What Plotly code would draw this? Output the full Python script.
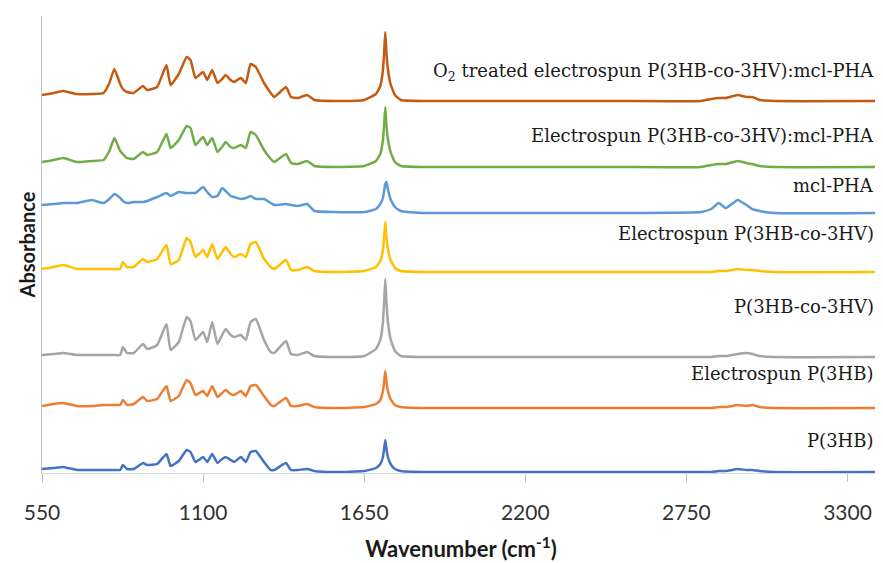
import plotly.graph_objects as go

# Shared wavenumber grid (cm-1)
wavenumber = [550, 590, 623, 669, 720, 760, 780, 797, 817, 826, 840, 863, 895, 909, 943,
              975, 989, 1017, 1044, 1057, 1074, 1100, 1114, 1131, 1149, 1165, 1177, 1194,
              1206, 1229, 1246, 1262, 1280, 1308, 1331, 1343, 1383, 1400, 1423, 1455, 1480,
              1550, 1650, 1690, 1705, 1714, 1718, 1722, 1726, 1730, 1740, 1755, 1775, 1850,
              2000, 2500, 2800, 2835, 2860, 2885, 2925, 2955, 2975, 3000, 3050, 3425]

# Absorbance (arbitrary units, baseline-relative)
abs_o2_blend = [6, 8, 10, 7, 7, 8, 18, 32, 17, 12, 9, 8, 15, 11, 14,
                36, 16, 27, 44, 41, 23, 29, 21, 31, 18, 22, 26, 21,
                19, 23, 18, 37, 34, 18, 8, 4, 14, 4, 3, 6, 1,
                0, 1, 7, 15, 31, 48, 69, 48, 34, 17, 6, 1, 0,
                0, 0, 0, 2, 3, 3, 6, 4, 4, 1, 0, 0]
abs_blend = [5, 7, 9, 5, 6, 7, 16, 29, 16, 13, 9, 8, 15, 12, 15,
             33, 19, 27, 41, 39, 22, 30, 22, 29, 15, 20, 25, 20,
             19, 22, 19, 35, 32, 17, 8, 5, 13, 4, 3, 6, 1,
             0, 1, 6, 13, 27, 42, 60, 42, 30, 15, 5, 1, 0,
             0, 0, 0, 2, 3, 3, 6, 4, 3, 1, 0, 0]
abs_mcl = [8, 9, 10, 10, 13, 10, 14, 19, 15, 12, 10, 11, 11, 12, 16,
           20, 17, 21, 20, 20, 20, 26, 21, 16, 17, 25, 22, 17,
           16, 14, 15, 17, 14, 14, 10, 8, 9, 8, 7, 9, 2,
           1, 1, 4, 9, 15, 22, 29, 31, 25, 14, 6, 2, 0,
           0, 0, 1, 4, 10, 5, 13, 8, 4, 2, 0, 0]
abs_es_phbv = [3, 5, 7, 3, 3, 3, 3, 3, 3, 10, 5, 5, 13, 10, 13,
               27, 8, 12, 34, 30, 15, 22, 15, 28, 13, 20, 25, 18,
               15, 18, 15, 28, 30, 13, 5, 3, 12, 2, 2, 5, 1,
               0, 1, 5, 11, 22, 35, 50, 35, 25, 12, 4, 1, 0,
               0, 0, 0, 0, 1, 1, 3, 2, 2, 1, 0, 0]
abs_phbv = [2, 3, 4, 2, 2, 2, 2, 2, 2, 10, 4, 4, 13, 8, 12,
            33, 7, 15, 40, 36, 17, 25, 15, 35, 13, 22, 28, 22,
            20, 22, 17, 35, 38, 17, 5, 4, 16, 3, 2, 5, 1,
            0, 1, 8, 17, 35, 55, 78, 55, 38, 18, 6, 1, 0,
            0, 0, 0, 0, 1, 1, 3, 4, 3, 1, 0, 0]
abs_es_phb = [2, 4, 5, 2, 2, 3, 3, 3, 3, 8, 3, 4, 11, 7, 9,
              22, 7, 12, 28, 25, 13, 17, 12, 22, 11, 15, 18, 14,
              13, 17, 12, 22, 23, 12, 3, 2, 10, 2, 2, 4, 1,
              0, 1, 4, 8, 17, 26, 37, 26, 18, 9, 3, 1, 0,
              0, 0, 0, 0, 1, 1, 3, 2, 3, 1, 0, 0]
abs_phb = [3, 4, 5, 2, 2, 2, 2, 2, 2, 7, 3, 3, 9, 7, 8,
           18, 6, 11, 22, 20, 10, 15, 10, 18, 9, 13, 15, 12,
           10, 15, 10, 20, 21, 10, 2, 2, 9, 2, 2, 3, 1,
           0, 1, 4, 8, 15, 23, 32, 23, 16, 8, 3, 1, 0,
           0, 0, 0, 0, 1, 1, 3, 2, 2, 1, 0, 0]

series_names = ["O<sub>2</sub> treated electrospun P(3HB-co-3HV):mcl-PHA",
                "Electrospun P(3HB-co-3HV):mcl-PHA",
                "mcl-PHA",
                "Electrospun P(3HB-co-3HV)",
                "P(3HB-co-3HV)",
                "Electrospun P(3HB)",
                "P(3HB)"]
series_values = [abs_o2_blend, abs_blend, abs_mcl, abs_es_phbv, abs_phbv, abs_es_phb, abs_phb]
offsets = [372, 306, 260, 201, 116, 65, 1]
label_y = [401, 338, 288, 240, 167, 100, 33]
colors = ["#C55A11", "#70AD47", "#5B9BD5", "#FFC000", "#A5A5A5", "#ED7D31", "#4472C4"]
tick_vals = [550, 1100, 1650, 2200, 2750, 3300]

fig = go.Figure()
for name, vals, off, col in zip(series_names, series_values, offsets, colors):
    fig.add_trace(go.Scatter(
        x=wavenumber, y=[v + off for v in vals], mode="lines", name=name,
        line=dict(color=col, width=2.5, shape="spline", smoothing=0.4),
        hoverinfo="skip", showlegend=False))

for name, ly in zip(series_names, label_y):
    fig.add_annotation(x=0.995, xref="paper", y=ly, yref="y", text=name,
                       showarrow=False, xanchor="right", yanchor="middle",
                       font=dict(family="DejaVu Serif", size=18, color="#1a1a1a"))

# page body has an 8px margin; figure is sized so the plot lands where the reference has it
fig.update_layout(
    width=875, height=555,
    margin=dict(l=34, r=3, t=8, b=90),
    paper_bgcolor="white", plot_bgcolor="white",
    xaxis=dict(range=[550, 3411], tickvals=tick_vals, ticktext=[str(t) for t in tick_vals],
               showgrid=False, zeroline=False, showline=True, linecolor="#D9D9D9", linewidth=1,
               ticks="outside", ticklen=8, tickcolor="#BFBFBF", ticklabelstandoff=13,
               tickfont=dict(family="Lato", size=21, color="#333333"),
               title=dict(text="<b>Wavenumber (cm<sup>-1</sup>)</b>", standoff=18,
                          font=dict(family="Lato", size=22, color="#1a1a1a"))),
    yaxis=dict(range=[0, 457], showticklabels=False, showgrid=False, zeroline=False,
               showline=True, linecolor="#BFBFBF", linewidth=1, ticks="",
               title=dict(text="<b>Absorbance</b>", standoff=0,
                          font=dict(family="Lato", size=20, color="#1a1a1a"))),
)

fig.write_html("out.html")
